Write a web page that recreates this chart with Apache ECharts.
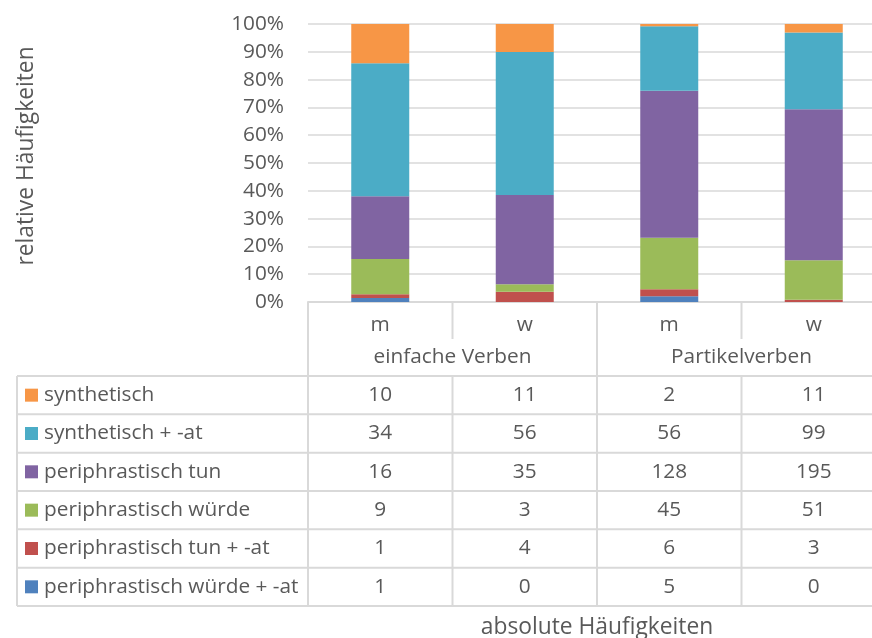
<!DOCTYPE html>
<html><head><meta charset="utf-8">
<script src="https://cdn.jsdelivr.net/npm/echarts@6/dist/echarts.min.js"></script>
<style>html,body{margin:0;padding:0;background:#fff}#c{width:872px;height:638px}</style>
</head><body><div id="c"></div>
<script>
// ---- data ----
const categories = ['m', 'w', 'm', 'w'];
const groups = ['einfache Verben', 'Partikelverben'];
const seriesNames = ['periphrastisch würde + -at', 'periphrastisch tun + -at', 'periphrastisch würde', 'periphrastisch tun', 'synthetisch + -at', 'synthetisch'];
const wuerdeAt = [1, 0, 5, 0];
const tunAt = [1, 4, 6, 3];
const wuerde = [9, 3, 45, 51];
const tun = [16, 35, 128, 195];
const synthAt = [34, 56, 56, 99];
const synth = [10, 11, 2, 11];
const seriesColors = ['#4F81BD', '#C0504D', '#9BBB59', '#8064A2', '#4BACC6', '#F79646'];
const yTitle = 'relative Häufigkeiten';
const xTitle = 'absolute Häufigkeiten';

const counts = [wuerdeAt, tunAt, wuerde, tun, synthAt, synth];
const totals = categories.map((_, i) => counts.reduce((s, arr) => s + arr[i], 0));
const perc = counts.map(arr => arr.map((v, i) => v / totals[i] * 100));

const FONT = 'Open Sans';
const FS = 20.8;
const TFS = 22.8;
const TXT = '#595959';
const LINE = '#D9D9D9';
const G = { left: 308, top: 24, width: 578, height: 278 };

const chart = echarts.init(document.getElementById('c'), null, { renderer: 'canvas' });
chart.setOption({
  animation: false,
  textStyle: { fontFamily: FONT },
  grid: { left: G.left, top: G.top, width: G.width, height: G.height, outerBoundsMode: 'none', containLabel: false },
  xAxis: [{
    type: 'category', data: categories, position: 'bottom',
    axisLine: { show: true, lineStyle: { color: LINE, width: 2 } },
    axisTick: { show: false },
    axisLabel: { color: TXT, fontSize: FS, fontFamily: FONT, margin: 13 }
  }, {
    type: 'category', data: groups, position: 'bottom',
    axisLine: { show: false }, axisTick: { show: false },
    axisLabel: { color: TXT, fontSize: FS, fontFamily: FONT, margin: 45 },
    name: xTitle, nameLocation: 'middle', nameGap: 314,
    nameTextStyle: { color: TXT, fontSize: TFS, fontFamily: FONT }
  }],
  yAxis: {
    type: 'value', min: 0, max: 100, interval: 10,
    axisLabel: { formatter: '{value}%', color: TXT, fontSize: FS, fontFamily: FONT, margin: 24 },
    axisLine: { show: false }, axisTick: { show: false },
    splitLine: { lineStyle: { color: LINE, width: 1.5 } },
    name: yTitle, nameLocation: 'middle', nameGap: 270,
    nameTextStyle: { color: TXT, fontSize: TFS, fontFamily: FONT, padding: [0, 0, 0, 14] }
  },
  series: seriesNames.map((n, k) => ({
    name: n, type: 'bar', stack: 'total', barWidth: 58,
    itemStyle: { color: seriesColors[k] },
    data: perc[k]
  }))
});

// ---- data table (text drawn from the arrays) ----
const rowTop = 376, rowH = 38.33, tableLeft = 17, tableRight = 872;
const colX = categories.map((_, i) => chart.convertToPixel({ xAxisIndex: 0 }, i));
const gl = [];
const L = (x1, y1, x2, y2) => gl.push({ type: 'line', shape: { x1, y1, x2, y2 }, style: { stroke: LINE, lineWidth: 2 }, silent: true });
const axisY = G.top + G.height;
const colW = G.width / categories.length;
const bounds = [G.left, G.left + colW, G.left + 2 * colW, G.left + 3 * colW, G.left + 4 * colW];
L(bounds[0], axisY, bounds[0], rowTop + 6 * rowH);
L(bounds[1], axisY, bounds[1], axisY + 37);
L(bounds[2], axisY, bounds[2], rowTop + 6 * rowH);
L(bounds[3], axisY, bounds[3], axisY + 37);
L(bounds[4], axisY, bounds[4], rowTop + 6 * rowH);
for (let r = 0; r <= 6; r++) L(tableLeft, rowTop + r * rowH, tableRight, rowTop + r * rowH);
L(tableLeft, rowTop, tableLeft, rowTop + 6 * rowH);
L(bounds[1], rowTop, bounds[1], rowTop + 6 * rowH);
L(bounds[3], rowTop, bounds[3], rowTop + 6 * rowH);
for (let r = 0; r < 6; r++) {
  const k = 5 - r;
  const cy = rowTop + r * rowH + rowH / 2;
  gl.push({ type: 'rect', shape: { x: 25, y: cy - 6.5, width: 13, height: 13 }, style: { fill: seriesColors[k] }, silent: true });
  gl.push({ type: 'text', x: 44, y: cy, style: { text: seriesNames[k], fill: TXT, font: FS + 'px "' + FONT + '"', textAlign: 'left', textVerticalAlign: 'middle' }, silent: true });
  for (let i = 0; i < categories.length; i++) {
    gl.push({ type: 'text', x: colX[i], y: cy, style: { text: String(counts[k][i]), fill: TXT, font: FS + 'px "' + FONT + '"', textAlign: 'center', textVerticalAlign: 'middle' }, silent: true });
  }
}
chart.setOption({ graphic: { elements: gl } });
</script>
</body></html>
